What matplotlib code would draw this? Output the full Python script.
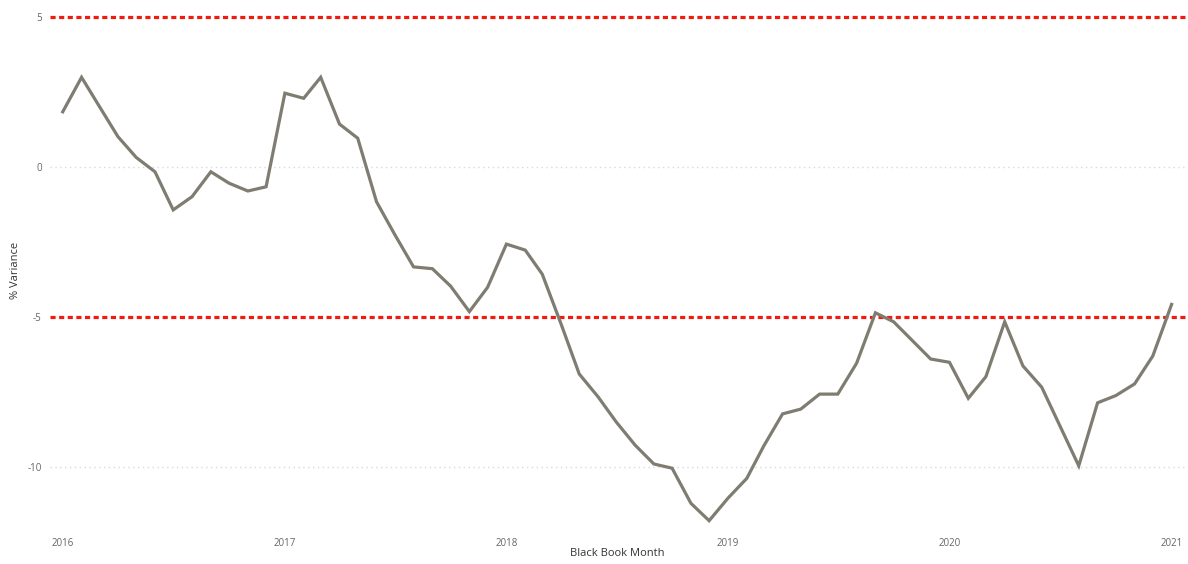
import matplotlib
matplotlib.use("Agg")
import matplotlib.pyplot as plt
import matplotlib.dates as mdates
import pandas as pd
import numpy as np

# Monthly % variance, Jan 2016 through Jan 2021
months = pd.date_range("2016-01-01", "2021-01-01", freq="MS")
variance = [
    1.84, 2.99, 2.03, 1.01, 0.32, -0.16, -1.43, -0.99, -0.16, -0.54, -0.80, -0.66,   # 2016
    2.46, 2.29, 2.99, 1.43, 0.96, -1.16, -2.25, -3.33, -3.39, -3.97, -4.82, -4.01,   # 2017
    -2.57, -2.77, -3.57, -5.23, -6.90, -7.66, -8.50, -9.27, -9.90, -10.04, -11.21, -11.79,  # 2018
    -11.04, -10.38, -9.30, -8.23, -8.07, -7.57, -7.57, -6.54, -4.86, -5.16, -5.79, -6.40,   # 2019
    -6.51, -7.71, -6.99, -5.16, -6.63, -7.34, -8.63, -9.96, -7.86, -7.62, -7.23, -6.30,    # 2020
    -4.58,                                                                                 # 2021
]
thresholds = [5, -5]
y_ticks = [5, 0, -5, -10]
y_tick_labels = ["5", "0", "-5", "-10"]
year_ticks = pd.to_datetime(["2016-01-01", "2017-01-01", "2018-01-01",
                             "2019-01-01", "2020-01-01", "2021-01-01"])
year_labels = ["2016", "2017", "2018", "2019", "2020", "2021"]

plt.rcParams["font.family"] = ["Open Sans", "DejaVu Sans"]

fig = plt.figure(figsize=(11.88, 5.64), dpi=100)
ax = fig.add_axes([50 / 1188, 37 / 564, 1138 / 1188, 522 / 564])

# light dotted grid at the non-threshold ticks
for yv in [0, -10]:
    ax.axhline(yv, color="#d9d9d9", lw=1.0, ls=(0, (1, 2.5)), zorder=1)

# red threshold lines
for yv in thresholds:
    ax.axhline(yv, color="#ee1c0e", lw=2.3, ls=(0, (1.6, 1.1)), zorder=2)

ax.plot(months, variance, color="#7f7c72", lw=2.3, solid_joinstyle="miter", zorder=3)

ax.set_ylim(-12, 5.4)
ax.set_xlim(pd.Timestamp("2016-01-01") - pd.Timedelta(days=21),
            pd.Timestamp("2021-01-01") + pd.Timedelta(days=27))

ax.set_yticks(y_ticks)
ax.set_yticklabels(y_tick_labels)
ax.set_xticks(year_ticks)
ax.set_xticklabels(year_labels)
ax.tick_params(axis="both", length=0, labelsize=7, labelcolor="#666666")
ax.tick_params(axis="y", pad=6)
ax.tick_params(axis="x", pad=8)

for s in ax.spines.values():
    s.set_visible(False)

fig.text(617 / 1188, 1 - 553 / 564, "Black Book Month", ha="center", va="center",
         fontsize=8, color="#333333")
fig.text(15 / 1188, 1 - 270 / 564, "% Variance", ha="center", va="center",
         rotation=90, fontsize=8, color="#333333")

fig.savefig("out.png", dpi=100)
